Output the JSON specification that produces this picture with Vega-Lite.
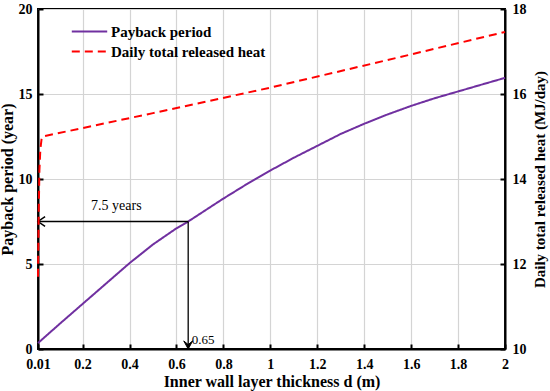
{
  "$schema": "https://vega.github.io/schema/vega-lite/v6.json",
  "width": 467,
  "height": 340,
  "autosize": {"type": "none"},
  "padding": {"left": 38, "top": 9, "right": 45, "bottom": 42},
  "background": "white",
  "config": {
    "font": "Liberation Serif",
    "view": {"stroke": "black", "strokeWidth": 2},
    "axis": {
      "labelFont": "Liberation Serif",
      "labelFontSize": 14,
      "labelFontWeight": "bold",
      "labelColor": "black",
      "labelFlush": false,
      "titleFont": "Liberation Serif",
      "titleFontSize": 16,
      "titleFontWeight": "bold",
      "titleColor": "black",
      "domainColor": "black",
      "domainWidth": 2,
      "tickColor": "black",
      "tickWidth": 2,
      "tickSize": -5,
      "gridColor": "#d4d4d4",
      "gridWidth": 1.2
    }
  },
  "datasets": {
    "curves": [
      {"d": 0.01, "v": 0.35, "series": "Payback period"},
      {"d": 0.1, "v": 1.45, "series": "Payback period"},
      {"d": 0.2, "v": 2.65, "series": "Payback period"},
      {"d": 0.3, "v": 3.85, "series": "Payback period"},
      {"d": 0.4, "v": 5.05, "series": "Payback period"},
      {"d": 0.5, "v": 6.15, "series": "Payback period"},
      {"d": 0.6, "v": 7.1, "series": "Payback period"},
      {"d": 0.65, "v": 7.5, "series": "Payback period"},
      {"d": 0.7, "v": 7.95, "series": "Payback period"},
      {"d": 0.8, "v": 8.85, "series": "Payback period"},
      {"d": 0.9, "v": 9.7, "series": "Payback period"},
      {"d": 1.0, "v": 10.5, "series": "Payback period"},
      {"d": 1.1, "v": 11.25, "series": "Payback period"},
      {"d": 1.2, "v": 11.95, "series": "Payback period"},
      {"d": 1.3, "v": 12.65, "series": "Payback period"},
      {"d": 1.4, "v": 13.25, "series": "Payback period"},
      {"d": 1.5, "v": 13.8, "series": "Payback period"},
      {"d": 1.6, "v": 14.3, "series": "Payback period"},
      {"d": 1.7, "v": 14.75, "series": "Payback period"},
      {"d": 1.8, "v": 15.15, "series": "Payback period"},
      {"d": 1.9, "v": 15.55, "series": "Payback period"},
      {"d": 2.0, "v": 15.95, "series": "Payback period"},
      {"d": 0.01, "v": 11.7, "series": "Daily total released heat"},
      {"d": 0.013, "v": 13.2, "series": "Daily total released heat"},
      {"d": 0.016, "v": 14.2, "series": "Daily total released heat"},
      {"d": 0.02, "v": 14.7, "series": "Daily total released heat"},
      {"d": 0.025, "v": 14.93, "series": "Daily total released heat"},
      {"d": 0.03, "v": 15.0, "series": "Daily total released heat"},
      {"d": 0.5, "v": 15.55, "series": "Daily total released heat"},
      {"d": 1.0, "v": 16.15, "series": "Daily total released heat"},
      {"d": 1.5, "v": 16.8, "series": "Daily total released heat"},
      {"d": 2.0, "v": 17.46, "series": "Daily total released heat"}
    ],
    "arrows": [
      {"d": 0.65, "v": 7.5, "part": "h"},
      {"d": 0.01, "v": 7.5, "part": "h"},
      {"d": 0.65, "v": 7.5, "part": "v"},
      {"d": 0.65, "v": 0, "part": "v"}
    ],
    "labels": [
      {"d": 0.344, "v": 8.4, "text": "7.5 years"}
    ],
    "labels2": [
      {"d": 0.665, "v": 0.55, "text": "0.65"}
    ],
    "headL": [{"d": 0.01, "v": 7.5}],
    "headD": [{"d": 0.65, "v": 0}]
  },
  "layer": [
    {
      "layer": [
        {
          "data": {"name": "curves"},
          "transform": [{"filter": "datum.series == 'Payback period'"}],
          "mark": {"type": "line", "strokeWidth": 2},
          "encoding": {
            "x": {
              "field": "d", "type": "quantitative",
              "scale": {"domain": [0.01, 2], "nice": false, "zero": false},
              "axis": {
                "values": [0.01, 0.2, 0.4, 0.6, 0.8, 1, 1.2, 1.4, 1.6, 1.8, 2],
                "format": "~g",
                "title": "Inner wall layer thickness d (m)",
                "titlePadding": 2,
                "labelPadding": 13,
                "grid": true
              }
            },
            "y": {
              "field": "v", "type": "quantitative",
              "scale": {"domain": [0, 20], "nice": false},
              "axis": {
                "values": [0, 5, 10, 15, 20],
                "title": "Payback period (year)",
                "titlePadding": 3,
                "labelPadding": 11,
                "grid": true
              }
            },
            "color": {
              "field": "series", "type": "nominal",
              "scale": {"domain": ["Payback period", "Daily total released heat"], "range": ["#7030A0", "#FF0000"]},
              "legend": {
                "title": null,
                "orient": "none",
                "legendX": 44,
                "legendY": 15,
                "symbolType": "M-2.8,0L2.8,0",
                "symbolSize": 160,
                "symbolStrokeWidth": 2,
                "labelOffset": 14,
                "labelFont": "Liberation Serif",
                "labelFontSize": 15,
                "labelFontWeight": "bold",
                "labelColor": "black",
                "rowPadding": 4
              }
            },
            "strokeDash": {
              "field": "series", "type": "nominal",
              "scale": {"domain": ["Payback period", "Daily total released heat"], "range": [[1, 0], [8, 5]]},
              "legend": {
                "title": null,
                "orient": "none",
                "legendX": 44,
                "legendY": 15,
                "symbolType": "M-2.8,0L2.8,0",
                "symbolSize": 160,
                "symbolStrokeWidth": 2,
                "labelOffset": 14,
                "labelFont": "Liberation Serif",
                "labelFontSize": 15,
                "labelFontWeight": "bold",
                "labelColor": "black",
                "rowPadding": 4
              }
            }
          }
        },
        {
          "data": {"name": "arrows"},
          "mark": {"type": "line", "color": "black", "strokeWidth": 1.3},
          "encoding": {
            "x": {"field": "d", "type": "quantitative"},
            "y": {"field": "v", "type": "quantitative"},
            "detail": {"field": "part"}
          }
        },
        {
          "data": {"name": "headL"},
          "mark": {"type": "point", "shape": "M1,-0.7L0,0L1,0.7", "size": 200, "filled": false, "stroke": "black", "strokeWidth": 1.5, "opacity": 1},
          "encoding": {
            "x": {"field": "d", "type": "quantitative"},
            "y": {"field": "v", "type": "quantitative"}
          }
        },
        {
          "data": {"name": "headD"},
          "mark": {"type": "point", "shape": "M-0.55,-1L0,-0.55L0.55,-1L0,0Z", "size": 260, "filled": true, "fill": "black", "stroke": "black", "strokeWidth": 1, "opacity": 1},
          "encoding": {
            "x": {"field": "d", "type": "quantitative"},
            "y": {"field": "v", "type": "quantitative"}
          }
        },
        {
          "data": {"name": "labels"},
          "mark": {"type": "text", "font": "Liberation Serif", "fontSize": 14, "align": "center", "baseline": "middle", "color": "black"},
          "encoding": {
            "x": {"field": "d", "type": "quantitative"},
            "y": {"field": "v", "type": "quantitative"},
            "text": {"field": "text"}
          }
        },
        {
          "data": {"name": "labels2"},
          "mark": {"type": "text", "font": "Liberation Serif", "fontSize": 13, "align": "left", "baseline": "middle", "color": "black"},
          "encoding": {
            "x": {"field": "d", "type": "quantitative"},
            "y": {"field": "v", "type": "quantitative"},
            "text": {"field": "text"}
          }
        }
      ]
    },
    {
      "data": {"name": "curves"},
      "transform": [{"filter": "datum.series == 'Daily total released heat'"}],
      "mark": {"type": "line", "strokeWidth": 2},
      "encoding": {
        "x": {"field": "d", "type": "quantitative"},
        "y": {
          "field": "v", "type": "quantitative",
          "scale": {"domain": [10, 18], "nice": false, "zero": false},
          "axis": {
            "orient": "right",
            "values": [10, 12, 14, 16, 18],
            "title": "Daily total released heat (MJ/day)",
            "titleAngle": -90,
            "titleFontSize": 15,
            "titlePadding": 21,
            "labelPadding": 12,
            "grid": false
          }
        },
        "color": {"field": "series", "type": "nominal"},
        "strokeDash": {"field": "series", "type": "nominal"}
      }
    }
  ],
  "resolve": {"scale": {"y": "independent"}}
}
